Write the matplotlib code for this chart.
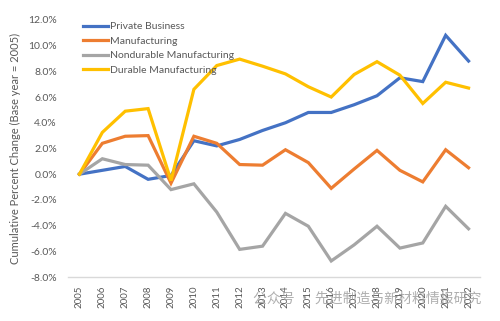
import matplotlib
matplotlib.use("Agg")
import matplotlib.pyplot as plt
from matplotlib.ticker import FuncFormatter

years = ['2005', '2006', '2007', '2008', '2009', '2010', '2011', '2012', '2013',
         '2014', '2015', '2016', '2017', '2018', '2019', '2020', '2021', '2022']

private_business = [0.0, 0.3, 0.6, -0.4, -0.1, 2.6, 2.2, 2.7, 3.4, 4.0, 4.8, 4.8,
                    5.4, 6.1, 7.5, 7.2, 10.8, 8.8]
manufacturing = [0.0, 2.4, 2.95, 3.0, -0.7, 2.95, 2.4, 0.75, 0.7, 1.9, 0.9, -1.1,
                 0.4, 1.85, 0.3, -0.6, 1.9, 0.5]
nondurable = [0.0, 1.2, 0.75, 0.7, -1.2, -0.75, -2.95, -5.85, -5.6, -3.05, -4.05, -6.75,
              -5.5, -4.05, -5.75, -5.35, -2.5, -4.25]
durable = [0.0, 3.25, 4.9, 5.1, -0.5, 6.6, 8.45, 8.95, 8.4, 7.8, 6.8, 6.0,
           7.75, 8.75, 7.7, 5.5, 7.15, 6.7]

series = [
    ('Private Business', private_business, '#4472C4'),
    ('Manufacturing', manufacturing, '#ED7D31'),
    ('Nondurable Manufacturing', nondurable, '#A5A5A5'),
    ('Durable Manufacturing', durable, '#FFC000'),
]

plt.rcParams['font.family'] = ['Lato', 'DejaVu Sans']
text_col = '#595959'

fig = plt.figure(figsize=(5, 3.21), dpi=100)
ax = fig.add_axes([0.136, 0.137, 0.824, 0.801])

x = list(range(len(years)))
for name, vals, col in series:
    ax.plot(x, vals, color=col, linewidth=2.3, label=name, solid_joinstyle='miter')

ax.set_xlim(-0.5, len(years) - 0.5)
ax.set_ylim(-8, 12)
ax.set_yticks(range(-8, 13, 2))
ax.yaxis.set_major_formatter(FuncFormatter(lambda v, p: '%.1f%%' % v))
ax.set_xticks(x)
ax.set_xticklabels(years, rotation=90)
ax.tick_params(axis='both', length=0, labelsize=7, colors=text_col)
ax.tick_params(axis='y', pad=8, labelsize=7.5)
ax.tick_params(axis='x', pad=6)

for s in ['top', 'right', 'left']:
    ax.spines[s].set_visible(False)
ax.spines['bottom'].set_color('#D9D9D9')
ax.spines['bottom'].set_linewidth(1)

ax.set_ylabel('Cumulative Percent Change (Base year = 2005)', fontsize=8, color=text_col, labelpad=5)

leg = ax.legend(loc='upper left', bbox_to_anchor=(0.036, 0.992), frameon=False, fontsize=7.5,
                handlelength=2.4, handletextpad=0.2, labelspacing=0.5, borderaxespad=0,
                borderpad=0)
for t in leg.get_texts():
    t.set_color(text_col)

fig.text(0.735, 0.07, '公众号 · 先进制造与新材料情报研究', fontsize=10, color='#9A9A9A', alpha=0.8,
         ha='center', va='center', family=['Noto Sans CJK SC', 'DejaVu Sans'])

fig.savefig('out.png', dpi=100)
